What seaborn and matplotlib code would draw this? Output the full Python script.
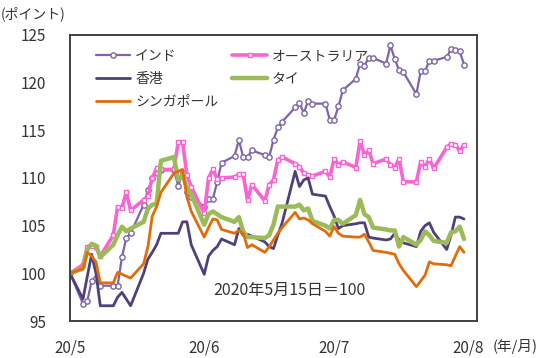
import matplotlib
matplotlib.use("Agg")
import matplotlib.pyplot as plt
import seaborn as sns
import pandas as pd

# ---- data (index values, 2020-05-15 = 100), business days 2020-05-15 .. 2020-08-14
dates = pd.bdate_range("2020-05-15", "2020-08-14")

india = [100.0,
         96.8, 97.1, 99.2, 99.5, 98.7,
         98.7, 98.7, 101.7, 103.7, 104.2,
         107.2, 108.7, 110.0, 110.5, 110.8,
         110.8, 109.2, 110.5, 108.5, 108.0,
         107.0, 107.8, 107.8, 109.6, 111.6,
         112.3, 114.0, 112.2, 112.2, 112.9,
         112.4, 112.2, 114.0, 115.3, 115.9,
         117.4, 117.9, 116.8, 118.1, 117.8,
         117.8, 116.1, 116.1, 117.5, 119.2,
         120.4, 122.0, 121.8, 122.6, 122.6,
         122.0, 123.9, 122.5, 121.3, 121.1,
         118.8, 121.2, 121.2, 122.3, 122.3,
         122.7, 123.5, 123.4, 123.3, 121.9]

australia = [100.0,
             100.9, 102.8, 102.9, 102.8, 101.8,
             104.0, 107.0, 106.9, 108.5, 106.6,
             107.7, 108.1, 110.0, 111.0, 110.9,
             110.9, 113.8, 113.8, 110.3, 109.1,
             106.3, 110.0, 110.9, 109.9, 110.0,
             110.1, 110.4, 110.4, 107.7, 109.3,
             107.6, 109.3, 109.8, 111.9, 112.2,
             111.5, 111.2, 110.5, 110.3, 110.2,
             110.7, 110.1, 112.0, 111.4, 111.7,
             111.1, 113.9, 112.4, 112.9, 111.5,
             112.0, 111.4, 111.1, 112.0, 109.6,
             109.6, 111.7, 111.2, 112.0, 111.0,
             113.2, 113.6, 113.5, 112.8, 113.5]

hongkong = [100.0,
            97.3, 99.7, 102.0, 100.0, 96.6,
            96.6, 97.5, 98.0, 97.3, 96.6,
            100.0, 101.5, 102.2, 103.0, 104.2,
            104.2, 104.2, 105.4, 105.4, 103.0,
            99.9, 101.8, 102.4, 102.8, 103.6,
            103.0, 104.7, 104.0, 104.1, 103.9,
            103.3, 102.8, 102.6, 104.0, 105.3,
            110.7, 109.1, 109.8, 110.0, 108.3,
            108.1, 107.0, 106.0, 104.7, 105.0,
            105.2, 105.3, 105.3, 103.8, 103.7,
            103.5, 103.6, 104.2, 103.5, 103.2,
            102.8, 104.4, 105.0, 105.3, 104.3,
            102.5, 104.0, 105.9, 105.9, 105.7]

thailand = [100.0,
            100.5, 102.5, 103.1, 102.9, 101.7,
            103.0, 104.0, 104.9, 104.4, 104.7,
            105.4, 106.8, 107.2, 107.3, 111.8,
            112.2, 109.8, 110.3, 109.0, 108.3,
            105.1, 106.2, 106.5, 106.2, 105.9,
            105.4, 105.9, 104.4, 103.8, 103.8,
            103.7, 104.0, 105.1, 107.0, 107.0,
            107.0, 107.2, 106.6, 106.8, 105.5,
            105.0, 104.7, 105.6, 105.6, 105.2,
            106.1, 107.7, 106.2, 105.9, 104.8,
            104.6, 104.5, 104.5, 102.8, 103.8,
            103.0, 103.5, 104.4, 104.0, 103.4,
            103.2, 104.3, 104.4, 104.9, 103.6]

singapore = [100.0,
             100.5, 102.2, 101.8, 101.2, 99.0,
             99.0, 100.1, 99.9, 99.7, 99.5,
             101.0, 102.8, 106.0, 107.0, 108.5,
             110.5, 110.7, 110.9, 108.0, 106.5,
             103.8, 104.8, 105.7, 105.6, 104.6,
             104.2, 104.5, 104.2, 102.7, 103.0,
             102.2, 102.8, 103.5, 104.2, 104.8,
             106.4, 105.7, 105.8, 105.6, 105.2,
             104.4, 103.9, 104.9, 104.2, 103.9,
             103.8, 103.8, 104.1, 103.3, 102.4,
             102.2, 102.1, 102.0, 101.0, 100.3,
             98.6, 99.2, 99.8, 101.2, 101.0,
             100.9, 100.8, 101.8, 102.8, 102.2]

series_names = ["インド", "オーストラリア", "香港", "タイ", "シンガポール"]
series_vals = [india, australia, hongkong, thailand, singapore]
tick_dates = ["2020-05-15", "2020-06-15", "2020-07-15", "2020-08-15"]
tick_labels = ["20/5", "20/6", "20/7", "20/8"]
y_ticks = [95, 100, 105, 110, 115, 120, 125]

# ---- styles
styles = {
    "インド": dict(color="#7d64a6", linewidth=1.6, marker="o", markersize=3.8,
                 markerfacecolor="white", markeredgecolor="#7d64a6", markeredgewidth=1.0),
    "オーストラリア": dict(color="#fb62d2", linewidth=2.6, marker="s", markersize=3.4,
                    markerfacecolor="white", markeredgecolor="#fb62d2", markeredgewidth=1.0),
    "香港": dict(color="#50407a", linewidth=2.0),
    "タイ": dict(color="#9bbb59", linewidth=3.2),
    "シンガポール": dict(color="#e36c0a", linewidth=2.0),
}

sns.set_style("white")
plt.rcParams["font.family"] = ["Noto Sans CJK JP", "DejaVu Sans"]

fig = plt.figure(figsize=(5.5, 3.58), dpi=100)
ax = fig.add_axes([70 / 550, 1 - 321 / 358, (477 - 70) / 550, (321 - 35) / 358])

for name, vals in zip(series_names, series_vals):
    df = pd.DataFrame({"date": dates, "value": vals})
    sns.lineplot(data=df, x="date", y="value", ax=ax, label=name, **styles[name])

ax.set_xlim(pd.Timestamp("2020-05-15"), pd.Timestamp("2020-08-17"))
ax.set_ylim(95, 125)
ax.set_yticks(y_ticks)
ax.set_xticks([pd.Timestamp(d) for d in tick_dates])
ax.set_xticklabels(tick_labels)
ax.set_xlabel("")
ax.set_ylabel("")

tc = "#333333"
ax.tick_params(axis="both", direction="in", length=4, width=1.2, color="#404040",
               labelsize=11, labelcolor=tc)
ax.tick_params(axis="y", pad=17)
ax.tick_params(axis="x", pad=13)
for s in ax.spines.values():
    s.set_visible(True)
    s.set_color("#404040")
    s.set_linewidth(1.4)

handles, labels = ax.get_legend_handles_labels()
order = ["インド", "香港", "シンガポール", "オーストラリア", "タイ"]
hmap = dict(zip(labels, handles))
leg = ax.legend([hmap[o] for o in order], order, ncol=2, loc="upper left",
                bbox_to_anchor=(0.063, 0.95), frameon=False, fontsize=10,
                handlelength=2.5, handletextpad=0.35, columnspacing=1.0,
                labelspacing=0.62, borderpad=0, borderaxespad=0)
for t in leg.get_texts():
    t.set_color(tc)

ax.text(pd.Timestamp("2020-07-04 18:00"), 98.2, "2020年5月15日＝100",
        ha="center", va="center", fontsize=11.5, color=tc)

fig.text(0.002, 1 - 14 / 358, "(ポイント)", ha="left", va="center", fontsize=10, color=tc)
fig.text(493 / 550, 1 - 346 / 358, "(年/月)", ha="left", va="center", fontsize=10.5, color=tc)

fig.savefig("out.png", dpi=100)
